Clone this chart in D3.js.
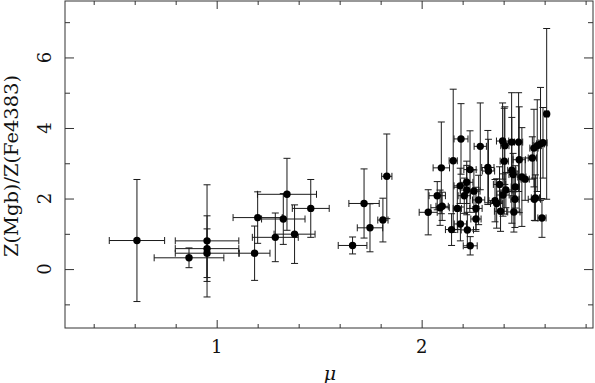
<!DOCTYPE html>
<html>
<head>
<meta charset="utf-8">
<script src="https://cdn.jsdelivr.net/npm/d3@7"></script>
<style>
  body { margin: 0; background: #fff; }
  svg { display: block; }
  text { font-family: "DejaVu Serif", "Liberation Serif", serif; fill: #111; }
</style>
</head>
<body>
<svg class="chart"></svg>
<script>
const width = 595,
  height = 383;

// mu values, their errors, and Z(Mgb)/Z(Fe4383) with errors
const mu = [0.611, 0.865, 0.953, 0.953, 0.953, 1.185, 1.20, 1.343, 1.325, 1.286, 1.38, 1.459, 1.663, 1.719, 1.748, 1.811, 1.83,
  2.032, 2.076, 2.096, 2.09, 2.10, 2.154, 2.192, 2.174, 2.188, 2.22, 2.208, 2.22, 2.255, 2.146, 2.189, 2.223, 2.237, 2.236,
  2.286, 2.265, 2.278, 2.265, 2.323, 2.326, 2.358, 2.366, 2.38, 2.385, 2.395, 2.406, 2.403, 2.397, 2.411, 2.439, 2.44, 2.446,
  2.45, 2.455, 2.457, 2.473, 2.476, 2.489, 2.505, 2.54, 2.548, 2.564, 2.58, 2.592, 2.61, 2.55, 2.555, 2.587];
const muErr = [0.135, 0.17, 0.155, 0.155, 0.155, 0.075, 0.12, 0.144, 0.106, 0.112, 0.10, 0.09, 0.07, 0.074, 0.062, 0.025, 0.025,
  0.044, 0.04, 0.04, 0.045, 0.03, 0.02, 0.034, 0.02, 0.03, 0.03, 0.03, 0.03, 0.03, 0.03, 0.03, 0.03, 0.034, 0.03,
  0.03, 0.03, 0.03, 0.025, 0.03, 0.03, 0.03, 0.03, 0.03, 0.03, 0.03, 0.02, 0.02, 0.03, 0.03, 0.03, 0.02, 0.02,
  0.03, 0.02, 0.02, 0.02, 0.03, 0.02, 0.02, 0.02, 0.02, 0.02, 0.02, 0.02, 0.01, 0.03, 0.02, 0.02];
const ratio = [0.81, 0.32, 0.80, 0.58, 0.45, 0.45, 1.46, 2.12, 1.42, 0.90, 0.99, 1.72, 0.67, 1.86, 1.17, 1.39, 2.63,
  1.61, 2.08, 2.87, 1.74, 1.78, 3.07, 3.69, 1.72, 2.36, 2.46, 2.08, 2.24, 2.21, 1.12, 1.28, 1.11, 0.66, 2.82,
  3.48, 1.72, 1.96, 1.42, 2.88, 2.78, 1.94, 1.86, 2.40, 1.64, 3.63, 3.50, 3.06, 2.10, 2.24, 3.60, 2.80, 2.68,
  1.62, 1.98, 2.33, 3.60, 3.10, 2.61, 2.55, 3.15, 3.43, 3.50, 3.55, 3.58, 4.40, 1.98, 2.02, 1.45];
const ratioErr = [1.73, 0.28, 1.59, 0.93, 0.69, 0.77, 0.73, 1.02, 0.72, 0.69, 0.83, 0.82, 0.24, 0.98, 0.68, 0.62, 1.2,
  0.64, 0.4, 1.3, 0.5, 0.4, 2.03, 1.0, 0.6, 0.5, 0.6, 0.5, 0.7, 0.6, 0.45, 0.48, 0.5, 0.26, 1.1,
  1.23, 0.6, 0.7, 0.35, 1.05, 0.9, 0.6, 0.7, 0.5, 0.57, 1.08, 1.1, 1.5, 0.6, 0.5, 1.4, 1.5, 0.6,
  0.57, 0.8, 0.6, 1.4, 1.5, 1.4, 0.6, 0.6, 1.1, 1.3, 1.6, 1.0, 2.42, 0.6, 0.65, 0.55];

const xMajor = [1, 2];
const xMinor = [0.4, 0.6, 0.8, 1.2, 1.4, 1.6, 1.8, 2.2, 2.4, 2.6, 2.8];
const yMajor = [0, 2, 4, 6];
const yMinor = [-1, 1, 3, 5, 7];

const data = mu.map((d, i) => ({x: d, xe: muErr[i], y: ratio[i], ye: ratioErr[i]}));

const plotLeft = 65, plotRight = 593, plotTop = 1, plotBottom = 328;

let x = d3.scaleLinear().domain([0.26, 2.836]).range([plotLeft, plotRight]);
let y = d3.scaleLinear().domain([-1.67, 7.6]).range([plotBottom, plotTop]);

let chart = d3.select(".chart")
  .attr("width", width)
  .attr("height", height);

chart.append("rect")
  .attr("x", plotLeft).attr("y", plotTop)
  .attr("width", plotRight - plotLeft).attr("height", plotBottom - plotTop)
  .attr("fill", "none").attr("stroke", "#333").attr("stroke-width", 1);

function frameAxis(axis, vals, size, tr) {
  let g = chart.append("g")
    .attr("transform", tr)
    .call(axis.tickValues(vals).tickSize(size).tickFormat(""));
  g.select(".domain").remove();
  g.selectAll("line").attr("stroke", "#333");
  return g;
}

// ticks on all four sides pointing inward
frameAxis(d3.axisBottom(x), xMajor, -8, `translate(0,${plotBottom})`);
frameAxis(d3.axisBottom(x), xMinor, -4, `translate(0,${plotBottom})`);
frameAxis(d3.axisTop(x), xMajor, -8, `translate(0,${plotTop})`);
frameAxis(d3.axisTop(x), xMinor, -4, `translate(0,${plotTop})`);
frameAxis(d3.axisLeft(y), yMajor, -9, `translate(${plotLeft},0)`);
frameAxis(d3.axisLeft(y), yMinor, -5, `translate(${plotLeft},0)`);
frameAxis(d3.axisRight(y), yMajor, -9, `translate(${plotRight},0)`);
frameAxis(d3.axisRight(y), yMinor, -5, `translate(${plotRight},0)`);

// tick labels
chart.append("g").selectAll("text")
  .data(xMajor)
  .enter().append("text")
  .attr("x", d => x(d))
  .attr("y", 347)
  .attr("dy", "0.35em")
  .attr("text-anchor", "middle")
  .attr("font-size", 18)
  .text(d => d);

chart.append("g").selectAll("text")
  .data(yMajor)
  .enter().append("text")
  .attr("transform", d => `translate(45,${y(d)}) rotate(-90)`)
  .attr("dy", "0.35em")
  .attr("text-anchor", "middle")
  .attr("font-size", 18)
  .text(d => d);

chart.append("text")
  .attr("transform", "translate(12,166) rotate(-90)")
  .attr("dy", "0.35em")
  .attr("text-anchor", "middle")
  .attr("font-size", 18)
  .attr("textLength", 182)
  .attr("lengthAdjust", "spacingAndGlyphs")
  .text("Z(Mgb)/Z(Fe4383)");

chart.append("text")
  .attr("x", 330)
  .attr("y", 373)
  .attr("dy", "0.35em")
  .attr("text-anchor", "middle")
  .attr("font-size", 19)
  .attr("font-style", "italic")
  .text("μ");

// error bars
const cap = 3.5;
let err = chart.append("g")
  .attr("stroke", "#1a1a1a")
  .attr("stroke-width", 1)
  .attr("fill", "none");

let pts = err.selectAll("g")
  .data(data)
  .enter().append("g");

pts.append("path")
  .attr("d", d => {
    let x0 = x(d.x - d.xe), x1 = x(d.x + d.xe), yc = y(d.y);
    let y0 = y(d.y - d.ye), y1 = y(d.y + d.ye), xc = x(d.x);
    return `M${x0},${yc}H${x1}` +
      `M${x0},${yc - cap}V${yc + cap}M${x1},${yc - cap}V${yc + cap}` +
      `M${xc},${y0}V${y1}` +
      `M${xc - cap},${y0}H${xc + cap}M${xc - cap},${y1}H${xc + cap}`;
  });

chart.append("g").selectAll("circle")
  .data(data)
  .enter().append("circle")
  .attr("cx", d => x(d.x))
  .attr("cy", d => y(d.y))
  .attr("r", 3.7)
  .attr("fill", "#000");
</script>
</body>
</html>
